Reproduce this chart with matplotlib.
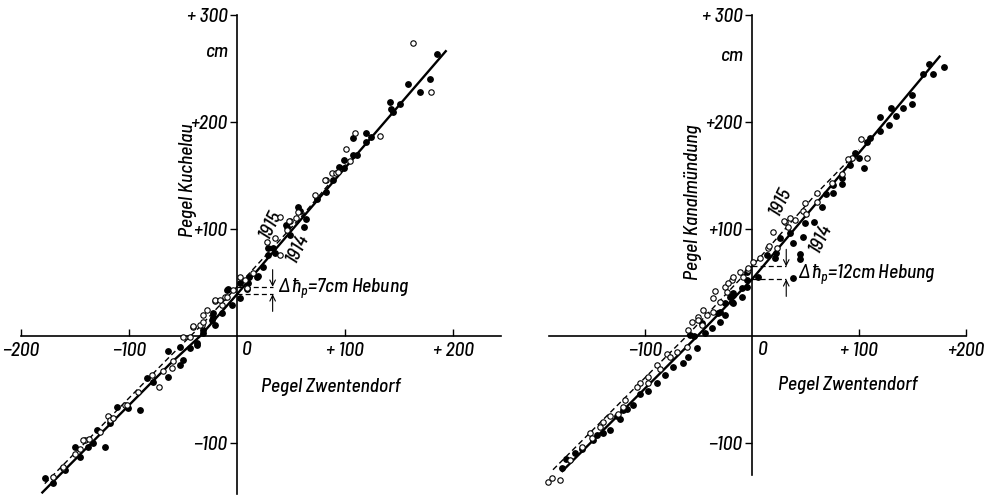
import matplotlib
matplotlib.use("Agg")
import matplotlib.pyplot as plt
from matplotlib import font_manager
import numpy as np

# ---- data: Pegel Zwentendorf (x) against downstream gauges (y), cm ----
# left panel: Pegel Kuchelau
kuch_1914_x = [184.9, 158.6, 178.7, 169.4, 141.7, 150.9, 144.2, 142.6, 119.4, 107.1, 123.8, 119.4,
               107.1, 110.8, 99.1, 94.7, 99.1, 89.2, 82.4, 74.4, 56.8, 58.3, 63.9, 62.0, 45.4,
               46.6, 29.0, 35.2, 49.0, 2.8, 10.5, 11.4, 18.2, 24.4, 29.0, 33.6, 9.0, -8.0, 2.8,
               -4.9, -21.9, -14.2, -23.4, -20.4, -31.2, -37.3, -52.8, -177.8, -170.0, -159.3,
               -150.0, -145.4, -137.7, -133.0, -129.9, -122.2, -117.6, -111.4, -100.6, -89.8,
               -83.6, -77.5, -63.6, -63.6, -52.8, -49.7, -43.5, -37.3, -31.2, -21.9, -9.5, 19.7]
kuch_1914_y = [263.6, 235.5, 239.9, 227.7, 218.4, 216.8, 209.6, 212.1, 190.0, 184.7, 186.3, 181.6,
               169.2, 169.2, 164.5, 158.2, 156.7, 145.8, 134.9, 127.8, 120.8, 117.1, 109.3, 101.6, 103.7,
               102.0, 82.0, 77.3, 94.4, 49.3, 49.3, 55.4, 55.4, 64.8, 75.7, 82.0, 43.6, 43.6, 35.2,
               29.0, 21.8, 21.2, 15.0, 10.3, 5.6, -6.8, -10.0, -133.0, -137.7, -125.2,
               -104.0, -112.8, -103.5, -100.3, -87.9, -104.0, -81.6, -66.0, -67.6, -69.2,
               -39.5, -42.7, -38.0, -13.7, -27.1, -22.4, -11.5, -8.4, 2.5, 18.0, 43.0, 56.0]

kuch_1915_x = [163.3, 179.6, 109.0, 132.4, 100.9, 104.6, 88.2, 91.4, 93.8, 82.4, 72.2, 56.8, 54.6,
               49.0, 39.8, 48.4, 46.0, 39.8, 81.5, 2.8, 7.4, 15.1, 28.1, 35.2, -3.4, -11.1, -20.4,
               -14.2, -28.1, -31.2, -40.5, -32.7, -49.7, -43.5, -170.0, -160.8, -150.0, -145.4,
               -140.7, -136.8, -126.9, -119.2, -117.6, -114.5, -103.7, -91.4, -79.0, -71.9, -68.2,
               -60.5, -59.0, -40.5, -34.3, -31.2, -20.4, -15.7, -9.5, 9.0, -161.0, -142.6, -102.0]
kuch_1915_y = [273.5, 227.7, 190.0, 187.2, 174.5, 163.9, 152.0, 152.0, 153.0, 145.8, 131.8, 116.2, 110.0,
               107.5, 111.5, 107.8, 99.0, 75.7, 145.8, 55.4, 52.3, 58.6, 88.1, 91.3, 43.0, 36.7, 33.0,
               29.0, 24.3, 19.6, 8.7, 10.3, -0.6, -0.6, -131.5, -123.6, -110.3, -105.9,
               -97.2, -96.5, -89.4, -74.8, -78.5, -76.9, -64.5, -52.0, -36.4, -47.4, -32.4,
               -30.2, -23.1, 9.3, 10.3, 13.4, 33.6, 33.6, 36.7, 44.6, -122.0, -97.0, -64.5]

kuch_line_1914_x = [-181, -62, -34, 0, 100, 194]
kuch_line_1914_y = [-147, -26, 0, 39, 157, 267]
kuch_line_1915_x = [-178, -62, -36, 0, 60, 102]
kuch_line_1915_y = [-138, -19, 7, 46, 112, 162]

# right panel: Pegel Kanalmündung
kanal_1914_x = [165.7, 179.4, 159.5, 169.4, 149.3, 149.5, 141.4, 129.6, 119.6, 134.6, 119.6, 128.3,
                110.3, 107.8, 104.7, 100.3, 96.6, 91.6, 83.8, 83.8, 75.4, 76.0, 69.2, 65.1, 58.2, 49.5,
                47.4, 38.6, 44.9, 44.9, 38.6, 35.5, 26.2, 22.4, 21.5, 13.7, 5.9, -5.0, -5.0, -9.6,
                -17.5, -17.5, -25.2, -31.5, -5.0, -9.6, -20.6, -19.0, -29.9, -25.2, -29.9, -37.7,
                -47.0, -57.9, -43.9, -54.2, -51.7, -59.5, -64.2, -73.6, -81.3, -88.5, -96.9, -104.7,
                -110.9, -116.5, -120.8, -126.5, -123.4, -132.7, -139.5, -145.1, -148.3, -159.2,
                -165.4, -173.8, -177.9, -17.5]
kanal_1914_y = [254.2, 251.7, 244.9, 244.9, 225.2, 216.8, 212.8, 213.4, 204.4, 205.6, 191.9, 197.2,
                185.3, 181.6, 156.7, 166.1, 170.7, 159.8, 147.4, 142.1, 141.1, 133.4, 132.4, 120.8, 106.8, 105.9,
                92.2, 86.6, 76.6, 71.7, 54.5, 96.5, 91.3, 77.3, 72.6, 75.7, 55.4, 60.1, 52.3, 44.6,
                38.3, 30.6, 30.6, 21.2, 46.1, 36.7, 36.7, 32.1, 22.7, 19.6, 13.4, 7.2,
                11.9, 0.9, 2.5, 0.0, -11.5, -19.3, -25.5, -29.3, -36.4, -44.2, -51.1, -54.2,
                -64.5, -68.5, -69.2, -74.8, -77.9, -87.9, -90.4, -92.5, -97.2, -105.9,
                -109.7, -115.2, -123.6, 39.9]

kanal_1915_x = [101.6, 107.8, 93.2, 90.0, 83.8, 74.5, 60.5, 61.0, 49.5, 48.0, 50.5, 40.2, 35.5,
                19.9, 30.8, 29.9, 33.9, 0.6, 7.5, 14.6, 16.2, 23.0, -3.4, -11.2, -8.1, -19.0, -17.5,
                -25.2, -23.6, -34.6, -36.7, -45.5, -50.2, -59.5, -56.4, -50.2, -47.0, -42.3, -36.1,
                -29.9, -22.1, -3.4, -60.5, -70.4, -79.7, -76.6, -89.1, -86.0, -96.9, -96.9, -104.7,
                -107.8, -118.7, -120.3, -124.9, -132.7, -139.5, -142.1, -151.4, -149.8, -159.2,
                -170.1, -190.4, -187.2, -179.4]
kanal_1915_y = [183.8, 166.1, 166.1, 165.1, 151.4, 143.3, 133.9, 125.5, 124.0, 117.1, 114.0, 108.4, 110.0,
                96.9, 106.8, 107.8, 102.1, 69.4, 72.6, 82.0, 84.1, 82.0, 61.7, 60.1, 55.4, 52.3, 55.4,
                46.1, 41.4, 42.3, 35.2, 24.3, 18.0, 5.6, 13.4, 15.0, 10.3, 19.6, 22.7,
                32.1, 49.3, 63.3, -10.6, -14.7, -16.8, -19.3, -27.1, -31.1, -38.0, -44.2, -43.6,
                -47.4, -59.8, -66.0, -72.9, -74.8, -80.1, -84.8, -90.9, -95.6, -103.5,
                -115.9, -136.2, -133.0, -134.6]

kanal_line_1914_x = [-178, -51, 0, 110, 176]
kanal_line_1914_y = [-127, 0, 53, 183, 262]
kanal_line_1915_x = [-186, -61, 0, 60, 100]
kanal_line_1915_y = [-125, 0, 65, 133, 174]

y_ticks = [-100, 100, 200, 300]
y_ticklabels = ["\u2212100", "+100", "+200", "+ 300"]
kuch_x_ticks = [-200, -100, 100, 200]
kuch_x_ticklabels = ["\u2212200", "\u2212100", "+ 100", "+ 200"]
kanal_x_ticks = [-100, 100, 200]
kanal_x_ticklabels = ["\u2212100", "+ 100", "+200"]

# ---- fonts: a narrow italic face ----
names = {f.name for f in font_manager.fontManager.ttflist}
for cand, size in [("Barlow Semi Condensed", 14), ("Roboto Condensed", 14),
                   ("Archivo Narrow", 14), ("Asap Condensed", 14),
                   ("Liberation Sans Narrow", 14)]:
    if cand in names:
        FAM = [cand, "DejaVu Sans"]
        FS = size
        break
else:
    FAM = ["DejaVu Sans"]
    FS = 11
WT = "medium"
plt.rcParams["font.family"] = FAM
plt.rcParams["font.style"] = "italic"
plt.rcParams["font.weight"] = WT
plt.rcParams["mathtext.fontset"] = "custom"
plt.rcParams["mathtext.it"] = FAM[0] + ":italic:medium"
plt.rcParams["mathtext.rm"] = FAM[0] + ":italic:medium"
plt.rcParams["mathtext.fallback"] = "cm"

W, H = 987, 497
fig = plt.figure(figsize=(W / 100, H / 100), dpi=100)


def make_axes(px_left, px_right, x0_px, y0_px, sx, sy):
    ax = fig.add_axes([px_left / W, 0, (px_right - px_left) / W, 1])
    ax.set_xlim((px_left - x0_px) / sx, (px_right - x0_px) / sx)
    ax.set_ylim((y0_px - H) / sy, y0_px / sy)
    for s in ("top", "right"):
        ax.spines[s].set_visible(False)
    ax.spines["left"].set_position("zero")
    ax.spines["bottom"].set_position("zero")
    ax.spines["left"].set_linewidth(1.2)
    ax.spines["bottom"].set_linewidth(1.2)
    ax.patch.set_alpha(0)
    return ax


def draw_panel(ax, xs1914, ys1914, xs1915, ys1915, lx14, ly14, lx15, ly15,
               xticks, xticklabels, ybounds, xbounds, ylabel, ylabel_pos,
               xlabel_pos, cm_pos, lab15_pos, lab14_pos, arrow_x, dh_text, dh_pos, zero_x):
    ax.spines["left"].set_bounds(*ybounds)
    ax.spines["bottom"].set_bounds(*xbounds)
    ax.set_yticks(y_ticks)
    ax.set_yticklabels(y_ticklabels, fontsize=FS, style="italic", weight=WT)
    ax.set_xticks(xticks)
    ax.set_xticklabels(xticklabels, fontsize=FS, style="italic", weight=WT)
    ax.tick_params(axis="y", direction="out", length=5, width=1.0, pad=2)
    ax.tick_params(axis="x", direction="in", length=5, width=1.0, pad=4)

    ax.plot(lx14, ly14, color="black", lw=1.7, solid_capstyle="butt", zorder=2)
    ax.plot(lx15, ly15, color="black", lw=1.0, dashes=(4, 2.5), zorder=2)

    ax.plot(xs1914, ys1914, linestyle="none", marker="o", ms=3.9,
            mfc="black", mec="black", zorder=3)
    ax.plot(xs1915, ys1915, linestyle="none", marker="o", ms=3.9,
            mfc="white", mec="black", mew=0.8, zorder=4)

    # offset between the two yearly curves at x = 0
    y14 = np.interp(0, lx14, ly14)
    y15 = np.interp(0, lx15, ly15)
    for yv in (y14, y15):
        ax.plot([0, arrow_x], [yv, yv], color="black", lw=0.9, dashes=(4, 2.5), zorder=2)
    ax.annotate("", xy=(arrow_x, y15), xytext=(arrow_x, y15 + 16),
                arrowprops=dict(arrowstyle="->", lw=0.8, color="black", shrinkA=0, shrinkB=0))
    ax.annotate("", xy=(arrow_x, y14), xytext=(arrow_x, y14 - 16),
                arrowprops=dict(arrowstyle="->", lw=0.8, color="black", shrinkA=0, shrinkB=0))
    ax.text(dh_pos[0], dh_pos[1], dh_text, fontsize=FS, ha="left", va="center")

    ax.text(zero_x, -5, "0", fontsize=FS, ha="center", va="top")
    ax.text(*cm_pos, "cm", fontsize=FS, ha="center", va="center")
    ax.text(*ylabel_pos, ylabel, fontsize=FS, rotation=90, ha="center", va="center")
    ax.text(*xlabel_pos, "Pegel Zwentendorf", fontsize=FS, ha="center", va="center")
    ax.text(*lab15_pos, "1915", fontsize=FS, rotation=64, ha="center", va="center")
    ax.text(*lab14_pos, "1914", fontsize=FS, rotation=64, ha="center", va="center")


ax1 = make_axes(0, 493, 237, 336, 1.08, 1.07)
draw_panel(ax1, kuch_1914_x, kuch_1914_y, kuch_1915_x, kuch_1915_y,
           kuch_line_1914_x, kuch_line_1914_y, kuch_line_1915_x, kuch_line_1915_y,
           kuch_x_ticks, kuch_x_ticklabels, (-148, 300), (-200, 244),
           "Pegel Kuchelau", (-45.4, 145.8), (87, -47.7), (-18.5, 265.4),
           (30.6, 103.7), (55.6, 82.2), 33,
           r"$\Delta\,\hbar_p$=7cm Hebung", (38, 44), 9.3)

ax2 = make_axes(493, 987, 752, 336, 1.07, 1.07)
draw_panel(ax2, kanal_1914_x, kanal_1914_y, kanal_1915_x, kanal_1915_y,
           kanal_line_1914_x, kanal_line_1914_y, kanal_line_1915_x, kanal_line_1915_y,
           kanal_x_ticks, kanal_x_ticklabels, (-130, 300), (-190, 200),
           "Pegel Kanalmündung", (-55.1, 125.2), (89.7, -45.8), (-18.7, 261.7),
           (26.2, 125.2), (63.6, 91.6), 32,
           r"$\Delta\,\hbar_p$=12cm Hebung", (43, 57), 10)

fig.savefig("out.png", dpi=100, facecolor="white")
